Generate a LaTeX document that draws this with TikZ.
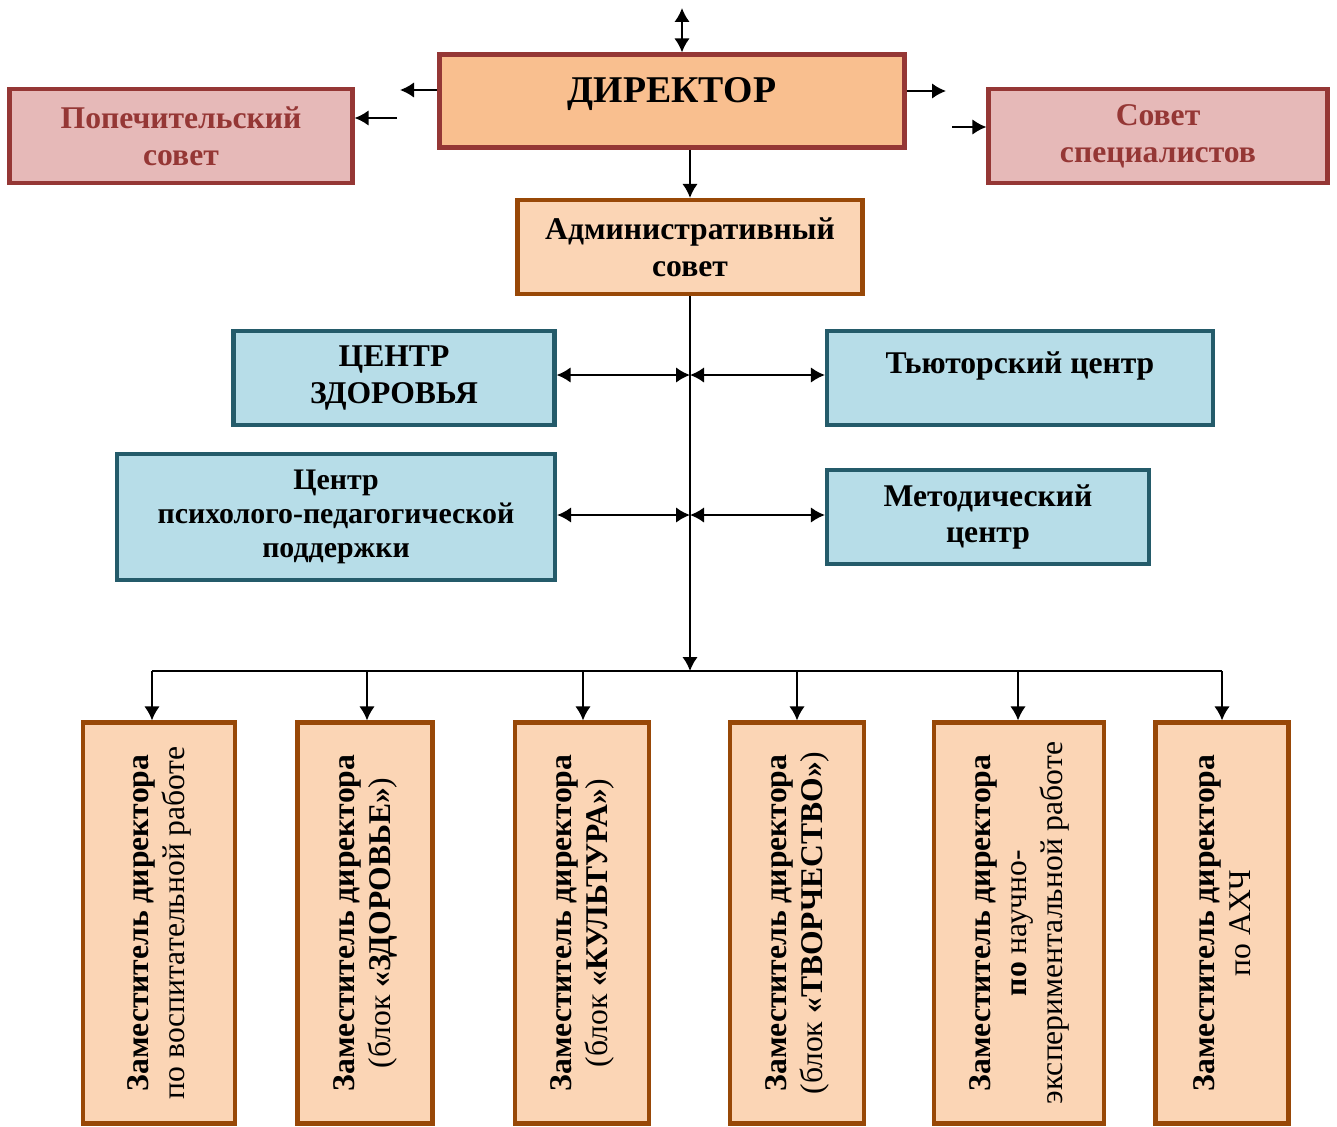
\documentclass[tikz,border=0pt]{standalone}
\usepackage{fontspec}
\setmainfont{Liberation Serif}
\usetikzlibrary{arrows.meta}
\definecolor{dirFill}{HTML}{F9BF8F}
\definecolor{redLine}{HTML}{953735}
\definecolor{pinkFill}{HTML}{E6B9B8}
\definecolor{admFill}{HTML}{FBD5B5}
\definecolor{brownLine}{HTML}{984807}
\definecolor{blueFill}{HTML}{B7DDE8}
\definecolor{blueLine}{HTML}{245B6A}
\newcommand{\zam}{\textbf{Заместитель директора}}

\begin{document}
\begin{tikzpicture}[x=0.02cm, y=-0.02cm, >={Latex[length=2.8mm,width=3.1mm]}]
  \tikzset{
    box/.style={draw, line width=2.4pt, align=center, inner sep=2pt,
      font=\bfseries\fontsize{18}{21}\selectfont},
    dirbox/.style={box, fill=dirFill, draw=redLine},
    pinkbox/.style={box, fill=pinkFill, draw=redLine, text=redLine},
    admbox/.style={box, fill=admFill, draw=brownLine},
    bluebox/.style={box, fill=blueFill, draw=blueLine},
    zambox/.style={draw=brownLine, fill=admFill, line width=2.4pt, align=center,
      rotate=90, inner sep=2pt, minimum width=8.02cm,
      font=\fontsize{18}{20.5}\selectfont},
    link/.style={line width=1.2pt}
  }
  \useasboundingbox (0,0) rectangle (1337,1126);

  % top level
  \node[dirbox, minimum width=9.3cm, minimum height=1.86cm, text depth=0.45cm,
    font=\bfseries\fontsize{21.5}{25}\selectfont] (dir) at (672,101) {ДИРЕКТОР};
  \node[pinkbox, minimum width=6.86cm, minimum height=1.88cm] (pop) at (181,136)
    {Попечительский\\совет};
  \node[pinkbox, minimum width=6.78cm, minimum height=1.88cm] (sov) at (1158,136)
    {Совет\\специалистов};
  \node[admbox, minimum width=6.9cm, minimum height=1.88cm] (adm) at (690,247)
    {Административный\\совет};

  % centres
  \node[bluebox, minimum width=6.42cm, minimum height=1.88cm] (zdr) at (394,378)
    {ЦЕНТР\\ЗДОРОВЬЯ};
  \node[bluebox, minimum width=7.72cm, minimum height=1.88cm, text depth=0.62cm] (tut) at (1020,378)
    {Тьюторский центр};
  \node[bluebox, minimum width=8.76cm, minimum height=2.52cm,
    font=\bfseries\fontsize{17}{19.5}\selectfont] (ppp) at (336,517)
    {Центр\\психолого-педагогической\\поддержки};
  \node[bluebox, minimum width=6.44cm, minimum height=1.88cm] (met) at (988,517)
    {Методический\\центр};

  % deputies
  \node[zambox, minimum height=3.04cm] (z1) at (159,923)
    {\zam\\по воспитательной работе};
  \node[zambox, minimum height=2.7cm] (z2) at (365,923)
    {\zam\\(блок \textbf{«ЗДОРОВЬЕ»})};
  \node[zambox, minimum height=2.68cm] (z3) at (582,923)
    {\zam\\(блок \textbf{«КУЛЬТУРА»})};
  \node[zambox, minimum height=2.68cm] (z4) at (797,923)
    {\zam\\(блок \textbf{«ТВОРЧЕСТВО»})};
  \node[zambox, minimum height=3.4cm] (z5) at (1019,923)
    {\zam\\\textbf{по} научно-\\экспериментальной работе};
  \node[zambox, minimum height=2.66cm] (z6) at (1222,923)
    {\zam\\по АХЧ};

  % arrows round the director
  \coordinate (up) at (682,8);
  \coordinate (l1) at (400,90);
  \coordinate (l2) at (397,118);
  \coordinate (r1) at (946,91);
  \coordinate (r2) at (952,127);
  \draw[link, <->] (up) -- (up |- dir.north);
  \draw[link, ->] (l1 -| dir.west) -- (l1);
  \draw[link, ->] (l2) -- (l2 -| pop.east);
  \draw[link, ->] (r1 -| dir.east) -- (r1);
  \draw[link, ->] (r2) -- (r2 -| sov.west);
  \draw[link, ->] (adm.north |- dir.south) -- (adm.north);

  % spine and bus
  \coordinate (j1) at (690,375);
  \coordinate (j2) at (690,515);
  \coordinate (bus) at (690,671);
  \draw[link, ->] (adm.south) -- (bus);
  \draw[link, <->] (j1 -| zdr.east) -- (j1);
  \draw[link, <->] (j1) -- (j1 -| tut.west);
  \draw[link, <->] (j2 -| ppp.east) -- (j2);
  \draw[link, <->] (j2) -- (j2 -| met.west);
  \foreach \n/\x in {1/152, 2/367, 3/583, 4/797, 5/1018, 6/1222}
    \coordinate (d\n) at (\x,671);
  \draw[link] (d1) -- (d6);
  \foreach \n in {1,...,6}
    \draw[link, ->] (d\n) -- (d\n |- z\n.east);
\end{tikzpicture}
\end{document}
